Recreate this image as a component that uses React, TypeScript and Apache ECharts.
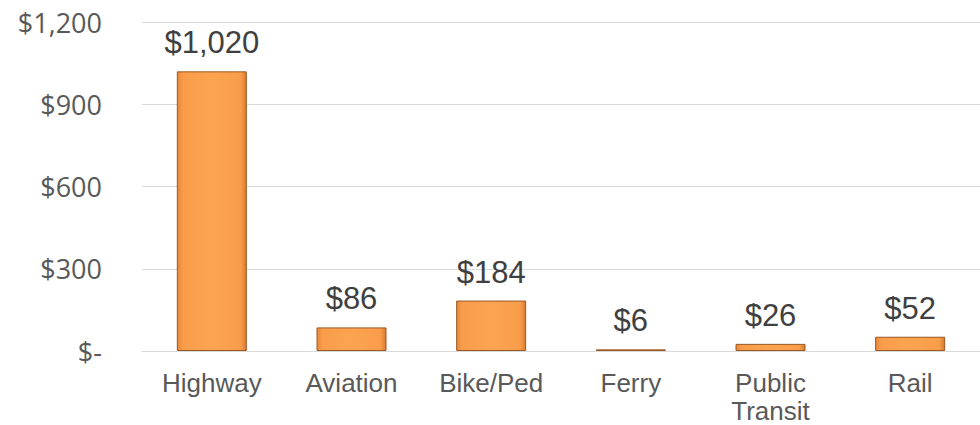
import React, { useEffect, useRef } from "react";
import * as echarts from "echarts";

const categories = ["Highway", "Aviation", "Bike/Ped", "Ferry", "Public\nTransit", "Rail"];
const values = [1020, 86, 184, 6, 26, 52];
const yTicks = { min: 0, max: 1200, interval: 300 };

const fmt = (v: number) => (v === 0 ? "$-" : "$" + v.toLocaleString("en-US"));

export default function App() {
  const ref = useRef<HTMLDivElement>(null);
  useEffect(() => {
    document.body.style.margin = "0";
    const chart = echarts.init(ref.current!, null, { renderer: "svg" });
    chart.setOption({
      animation: false,
      grid: { left: 142, right: 0, top: 22, bottom: 73 },
      xAxis: {
        type: "category",
        data: categories,
        axisLine: { show: true, lineStyle: { color: "#D9D9D9", width: 1 } },
        axisTick: { show: false },
        axisLabel: {
          fontFamily: "Liberation Sans",
          fontSize: 26,
          color: "#595959",
          margin: 18,
          lineHeight: 28,
          interval: 0,
        },
      },
      yAxis: {
        type: "value",
        min: yTicks.min,
        max: yTicks.max,
        interval: yTicks.interval,
        axisLine: { show: false },
        axisTick: { show: false },
        splitLine: { lineStyle: { color: "#D9D9D9", width: 1 } },
        axisLabel: {
          formatter: (v: number) => fmt(v),
          fontFamily: "Open Sans",
          fontSize: 27,
          color: "#595959",
          margin: 40,
        },
      },
      series: [
        {
          type: "bar",
          data: values,
          barWidth: 70,
          itemStyle: {
            color: new echarts.graphic.LinearGradient(0, 0, 1, 0, [
              { offset: 0, color: "#E8873A" },
              { offset: 0.08, color: "#F99D4A" },
              { offset: 0.5, color: "#FBA450" },
              { offset: 0.92, color: "#F99D4A" },
              { offset: 1, color: "#D97A30" },
            ]),
            borderColor: "#9A5A25",
            borderWidth: 1,
          },
          label: {
            show: true,
            position: "top",
            distance: 13,
            formatter: (p: any) => fmt(p.value),
            fontFamily: "Liberation Sans",
            fontSize: 31,
            color: "#404040",
          },
        },
      ],
    });
    return () => chart.dispose();
  }, []);
  return <div ref={ref} style={{ width: 980, height: 425 }} />;
}
